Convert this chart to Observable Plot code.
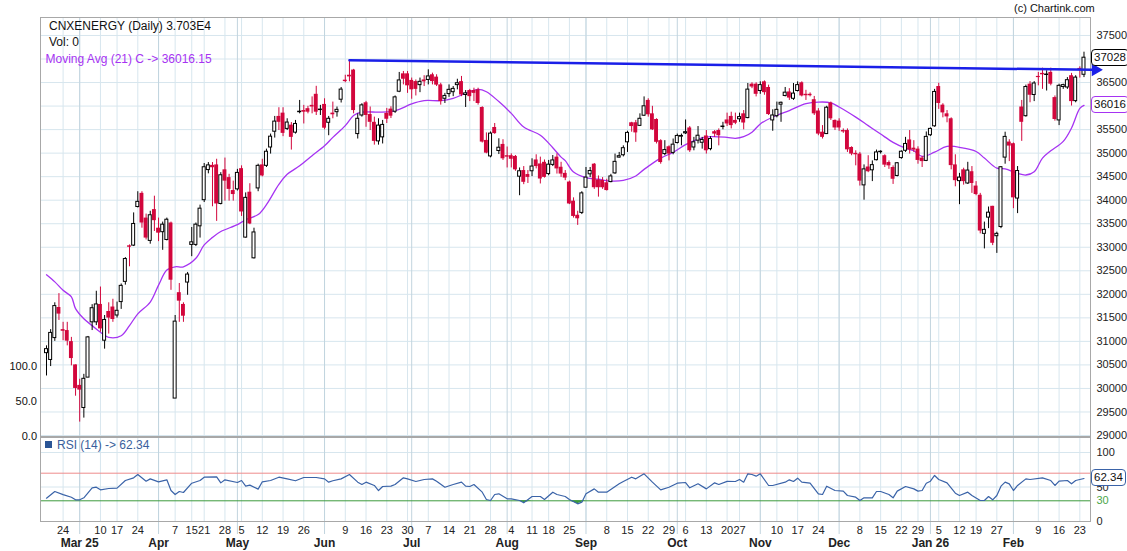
<!DOCTYPE html>
<html>
<head>
<meta charset="utf-8">
<script src="https://cdn.jsdelivr.net/npm/d3@7"></script>
<script src="https://cdn.jsdelivr.net/npm/@observablehq/plot@0.6"></script>
<style>
html,body{margin:0;padding:0;background:#fff;overflow:hidden;}
#wrap{position:relative;width:1127px;height:551px;font-family:"Liberation Sans",Arial,sans-serif;color:#111;}
#wrap svg{display:block;}
.lbl{position:absolute;white-space:nowrap;line-height:14px;font-size:12px;}
.box{position:absolute;left:1091px;height:15px;line-height:15px;padding:0 2px;border:1px solid #000;border-radius:4px;background:#fff;font-size:11.5px;white-space:nowrap;color:#111;}
</style>
</head>
<body>
<div id="wrap"></div>
<script>
// ---------- data ----------
const sessionMonths = ["2025-02","2025-03","2025-04","2025-05","2025-06","2025-07","2025-08","2025-09","2025-10","2025-11","2025-12","2026-01","2026-02"];
const sessionDays = [
 "18 19 20 21 24 25 27 28",
 "3 4 5 6 7 10 11 12 13 17 18 19 20 21 24 25 26 27 28",
 "1 2 3 4 7 8 9 11 15 16 17 21 22 23 24 25 28 29 30",
 "2 5 6 7 8 9 12 13 14 15 16 19 20 21 22 23 26 27 28 29 30",
 "2 3 4 5 6 9 10 11 12 13 16 17 18 19 20 23 24 25 26 27 30",
 "1 2 3 4 7 8 9 10 11 14 15 16 17 18 21 22 23 24 25 28 29 30 31",
 "1 4 5 6 7 8 11 12 13 14 18 19 20 21 22 25 26 28 29",
 "1 2 3 4 5 8 9 10 11 12 15 16 17 18 19 22 23 24 25 26 29 30",
 "1 3 6 7 8 9 10 13 14 15 16 17 20 23 24 27 28 29 30 31",
 "3 4 6 7 10 11 12 13 14 17 18 19 20 21 24 25 26 27 28",
 "1 2 3 4 5 8 9 10 11 12 15 16 17 18 19 22 23 24 26 29 30 31",
 "1 2 5 6 7 8 9 12 13 14 16 19 20 21 22 23 27 28 29 30",
 "1 2 3 4 5 6 9 10 11 12 13 16 17 18 19 20 23 24"
];

const opens = [
30750,30605,31070,31720,31250,31230,30995,30500,30065,29585,
30230,31405,31405,31785,31015,31635,31730,31550,31835,32265,
33030,33035,33855,34145,33620,33135,33800,33405,33320,33155,
33515,29785,32035,31785,32250,33050,33050,33445,34000,34640,
34740,34750,33920,34645,34480,34205,34230,34670,33205,34170,
32765,34250,34750,34730,35120,35455,35780,35850,35515,35595,
35435,35870,35905,35945,36015,36250,35915,36035,35645,35850,
35870,36135,36550,36655,36765,35405,35800,36070,35820,35655,
35250,35335,35845,35935,35880,36305,36685,36685,36545,36520,
36445,36555,36555,36665,36615,36450,36155,36255,36295,36445,
36520,36235,36330,36330,36345,35970,35270,34930,35545,35045,
35185,34945,34945,34930,34500,34630,34545,34615,34855,34770,
34805,34555,34750,34915,34700,34570,34385,33980,33680,33730,
34265,34550,34765,34430,34420,34370,34385,34570,34905,34955,
35230,35645,35645,35580,35795,36120,35835,35715,35265,34980,
35135,35005,35215,35350,35420,35535,35120,35265,35220,35365,
35085,35455,35480,35555,35705,35780,35695,35720,35835,35745,
36465,36465,36320,36515,36395,35695,35785,36030,36215,36300,
36155,36320,36495,36250,36250,36135,35895,35445,35405,36065,
35695,35680,35480,35480,35120,34995,34980,34315,34705,34635,
34850,35020,34945,34800,34695,34515,34895,35050,35280,35105,
35085,34895,34835,35380,35570,36415,36020,35835,35730,34750,
34405,34645,34355,34605,34300,34105,33285,33630,33870,33235,
33430,34905,35235,35200,34035,35980,35785,36465,36235,36630,
36695,36660,36715,36180,35695,36405,36395,36645,36105,36800,36665];

const highs = [
30905,31250,31820,32015,31405,31405,31085,30500,30195,30300,
31105,31780,32065,32155,31550,31820,31895,31835,32220,32780,
33050,33730,34180,34180,33705,33765,34085,33620,33535,33620,
33535,31550,32230,31820,32465,33420,33515,33895,34780,34800,
34800,34870,34585,34895,34550,34405,34655,34730,34155,34350,
33405,34765,34870,35085,35405,35780,35965,35965,35730,35650,
35695,36120,36015,35995,36195,36420,36015,36155,35780,36085,
35980,36395,36655,36975,36780,35835,36050,36100,35980,35765,
35730,35695,35950,35985,36215,36715,36735,36735,36595,36555,
36595,36645,36770,36700,36665,36485,36270,36450,36415,36570,
36630,36330,36355,36380,36380,35985,35430,35450,35630,35305,
35285,35130,34985,34950,34685,34715,34630,34880,34965,34915,
34855,34845,34950,34985,34805,34630,34405,34050,33765,34180,
34695,34695,34780,34515,34480,34445,34550,34980,35015,35155,
35465,35655,35695,35835,36195,36155,35995,35730,35285,35265,
35155,35300,35405,35405,35705,35565,35335,35565,35335,35480,
35350,35480,35515,35655,35850,35870,35850,35850,35905,36480,
36495,36495,36515,36535,36445,35920,36085,36085,36395,36370,
36480,36515,36515,36335,36280,36205,35945,35585,35995,36085,
35705,35730,35515,35515,35135,35050,35015,34750,34945,34835,
35065,35050,34965,34835,34730,34800,35050,35335,35480,35265,
35135,34930,35450,35535,36355,36485,36050,35905,35750,34965,
34570,34680,34805,34715,34395,34145,33535,33855,33870,33320,
34715,35445,35285,35215,34715,36120,36445,36520,36520,36715,
36805,36750,36805,36215,36465,36465,36605,36695,36645,36835,37145];

const lows = [
30265,30465,31000,31445,31015,30905,30480,29835,29285,29370,
30230,31230,31335,31195,30835,31155,31405,31495,31680,32195,
32585,33015,33835,33405,33155,33065,33335,33120,32935,33135,
32085,29785,31405,31405,31980,32800,33015,33195,33950,34560,
33860,33550,33900,33980,33980,33980,34195,33655,33195,33480,
32750,34180,34495,34695,34980,35320,35480,35350,35480,35065,
35405,35835,35620,35835,35835,35800,35800,35495,35370,35730,
35765,36065,36495,36515,35835,35300,35765,35550,35480,35170,
35170,35195,35630,35735,35845,36285,36450,36270,36145,36215,
36285,36415,36450,36450,36415,36020,36055,36185,36200,36345,
36200,35970,36095,36095,36020,35215,34985,34900,35400,34970,
34845,34685,34685,34615,34095,34330,34355,34500,34665,34345,
34470,34520,34715,34555,34485,34415,33905,33620,33465,33695,
34265,34480,34230,34065,34230,34195,34370,34550,34895,34920,
35015,35445,35230,35565,35780,35765,35480,35195,34765,34945,
34835,34965,35195,35155,35395,35015,35050,35195,35085,34980,
35050,35335,35155,35495,35565,35515,35605,35655,35495,35730,
36370,36195,36250,36230,35800,35465,35750,35655,36195,36120,
36120,36300,36195,36120,36195,35800,35370,35300,35395,35695,
35480,35465,35420,35015,34945,34730,34300,34000,34585,34395,
34835,34980,34695,34655,34335,34495,34870,35015,34980,35015,
34765,34695,34820,35355,35550,35930,35750,35645,34645,34285,
33905,34320,34335,34145,34095,33285,32965,33395,33035,32870,
33395,34765,34820,33820,33715,35250,35765,36070,36095,36430,
36355,36320,36430,35680,35585,36355,36355,36000,36070,36595,36605];

const closes = [
30835,31180,31750,31580,31215,31005,30635,30000,29965,30205,
31085,31705,31785,31265,31455,31495,31465,31650,32180,32750,
33000,33495,33965,33515,33195,33680,33565,33300,33480,33585,
32300,31420,31855,31535,32420,33105,33480,33820,34700,34740,
34690,33920,34530,34405,34230,34120,34580,33750,34050,33495,
33315,34730,34515,35030,35350,35670,35655,35420,35650,35335,
35620,35880,35870,35870,35980,35870,35925,35530,35730,35815,
35920,36350,36520,36620,35905,35730,36015,35800,35655,35250,
35585,35600,35720,35785,36185,36545,36570,36430,36345,36355,
36515,36515,36630,36520,36445,36095,36215,36345,36365,36485,
36235,36270,36200,36270,36055,35235,35000,35415,35415,35115,
34880,34915,34870,34645,34615,34380,34485,34715,34715,34450,
34485,34755,34845,34665,34555,34470,33920,33655,33605,34145,
34480,34620,34265,34265,34265,34205,34505,34815,34935,35105,
35430,35565,35430,35730,35995,35815,35495,35230,34800,35065,
34980,35180,35365,35365,35445,35050,35230,35370,35280,35050,
35300,35405,35370,35565,35620,35585,35635,35765,35640,36350,
36405,36250,36445,36285,35820,35800,35920,36070,36285,36170,
36265,36445,36215,36220,36220,35835,35405,35335,35965,35730,
35535,35535,35450,35070,34980,34965,34405,34655,34605,34745,
35015,35030,34745,34730,34445,34785,35030,35195,35065,35065,
34845,34820,35345,35515,36300,36055,35855,35770,34735,34415,
34480,34395,34630,34355,34120,33345,33370,33735,33085,33285,
34700,35345,35150,34050,34620,35655,36405,36230,36480,36605,
36665,36670,36465,35715,36430,36445,36550,36095,36605,36765,37028];

// 21-day moving average, read at candle numbers (1-based)
const maIdx = [1,3,5,7,8,10,12,14,16,19,21,23,26,28,30,32,34,37,39,41,43,47,49,52,54,57,59,62,65,68,70,73,75,77,81,84,86,89,92,96,99,102,105,107,110,113,116,120,123,125,126,128,131,134,137,140,143,145,149,152,155,158,161,165,167,169,171,173,176,180,184,187,190,192,196,199,202,205,208,210,212,215,218,222,225,227,230,232,235,237,239,241,243,246,248,250,251];
const maVal = [32415,32265,32085,31945,31695,31480,31335,31195,31085,31120,31335,31585,31835,32195,32515,32585,32585,32765,33050,33210,33335,33480,33585,33695,33905,34335,34550,34730,34945,35155,35335,35585,35800,35870,35870,35880,35930,36045,36115,36115,36165,36270,36355,36305,36095,35845,35555,35380,35115,34915,34840,34600,34480,34445,34405,34420,34515,34655,34895,35015,35180,35300,35350,35335,35315,35350,35445,35620,35765,35905,36050,36085,36070,35980,35765,35585,35405,35230,35105,35050,34930,35020,35145,35105,35035,34895,34680,34665,34570,34535,34605,34895,35050,35250,35535,35950,36016];

// RSI(14), read at candle numbers (1-based)
const rsiIdx = [1,3,5,7,8,9,10,12,13,14,16,18,20,22,23,25,26,28,30,31,32,33,34,36,38,39,42,43,44,47,48,49,50,52,53,55,57,59,61,63,66,68,69,70,72,74,76,77,78,80,81,82,84,85,87,88,90,92,94,95,97,99,101,102,103,104,106,107,108,109,110,112,113,115,116,118,120,121,123,124,126,127,129,130,131,133,134,136,139,140,142,143,145,147,149,151,153,155,156,158,160,162,163,165,167,168,169,170,171,172,173,175,176,179,180,181,182,183,185,187,188,189,191,193,194,196,197,198,200,201,202,204,205,206,208,210,211,212,213,214,215,216,218,220,221,223,224,226,227,228,229,230,231,232,233,234,235,237,238,241,243,244,245,247,248,249,251];
const rsiVal = [33.8,43.5,39,35.2,31.4,31.4,34.3,48.8,49.7,45.9,47.8,48.3,59.4,63.3,68.1,58.4,61.8,57.5,60.4,44.9,39.1,43.5,42,55.5,59.4,64.2,64.7,56,60.4,56.5,59.4,51.2,52.7,46.9,57.5,59.4,64.2,61.8,59,63.8,63.8,61.8,57,59,61.8,68.1,57,53.6,57,52.2,44.9,50.7,51.2,53.6,63.3,61.8,58,60.9,61.8,58.4,49.7,53.6,57,51.2,50.7,53.6,42.5,31.9,30.4,39.1,40.1,32.9,32.9,30.4,27.1,36.2,36.2,31.9,42.5,39.1,36.2,31.9,25.6,28,40.1,47.3,42.5,42.5,54.6,58,64.2,61.8,69.1,57,45.9,49.7,55.5,56.5,48.8,54.6,47.3,56,53.6,58.2,58,60.9,57,69.1,68.1,65.7,69.1,52.2,52.2,57,60.4,58,62.8,57,55.5,40.1,39.1,51.2,44.9,44,37.7,35.2,30.4,34.3,34.3,43.5,43.5,39.1,34.3,44,50.7,47.3,44,44.9,55.5,58.4,66.7,60.9,56,41,37.7,42.5,37.7,30.4,30.4,36.2,31.4,37.7,51.2,57,54.6,44.9,52.2,61.8,60.9,63.3,59.4,52.2,58.4,59.4,54.6,59.4,62.34];

// Trend line (candle numbers, price)
const trendIdx = [74, 252.8];
const trendVal = [36975, 36770];

const priceTicks = [29000,29500,30000,30500,31000,31500,32000,32500,33000,33500,34000,34500,35000,35500,36000,36500,37000,37500];
const rsiTicks = [0,50,100];
const rsiBands = [30,70];
const volTicks = [0,50,100];
const lastClose = 37028, lastMA = 36016.15, lastRSI = 62.34;

// ---------- build ----------
const dates = sessionMonths.flatMap((m,k)=>sessionDays[k].split(" ").map(d=>`${m}-${d.padStart(2,"0")}`));
if (dates.length !== opens.length || highs.length !== opens.length || lows.length !== opens.length || closes.length !== opens.length)
  throw new Error(`length mismatch ${dates.length} ${opens.length} ${highs.length} ${lows.length} ${closes.length}`);
if (maIdx.length !== maVal.length || rsiIdx.length !== rsiVal.length) throw new Error("ma/rsi mismatch");

const parse = d3.utcParse("%Y-%m-%d");
const dt = dates.map(parse);
const candles = dates.map((d,i)=>({i, o:opens[i], h:highs[i], l:lows[i], c:closes[i]}));
const upC = candles.filter(d=>d.c>=d.o), downC = candles.filter(d=>d.c<d.o);
const ma = maIdx.map((k,j)=>({i:k-1, v:maVal[j]}));
const rsi = rsiIdx.map((k,j)=>({i:k-1, v:rsiVal[j]}));
const trend = trendIdx.map((k,j)=>({i:k-1, v:trendVal[j]}));

const weekStarts = [], monthStarts = [];
for (let i=1;i<dt.length;i++){
  if (dt[i].getUTCMonth() !== dt[i-1].getUTCMonth()) monthStarts.push(i);
  if (d3.utcSunday.count(dt[i-1], dt[i]) > 0) weekStarts.push(i);
}
const dayTicks = weekStarts.filter(i=>!monthStarts.includes(i));
const monthLabel = i => (i===monthStarts[0] || dt[i].getUTCMonth()===0) ? d3.utcFormat("%b %y")(dt[i]) : d3.utcFormat("%b")(dt[i]);

const RED="#d2063c", GRID="#d7e6ee", MGRID="#c2d4de", BLUE="#1a1fe8", PURPLE="#a633f2", RSIC="#3a63a8", GREEN="#3d9a3d";
const xDom = [-1.446, 251.57];
const font = '"Liberation Sans", Arial, sans-serif';

const main = Plot.plot({
  width:1127, height:437, marginLeft:40, marginRight:37, marginTop:17, marginBottom:1,
  x:{domain:xDom, axis:null}, y:{domain:[28979,37882], axis:null},
  style:{fontFamily:font, fontSize:"11px", color:"#222", background:"#fff", overflow:"visible"},
  marks:[
    Plot.ruleY(priceTicks,{stroke:GRID}),
    Plot.ruleX(weekStarts,{stroke:GRID}),
    Plot.ruleX(monthStarts,{stroke:MGRID}),
    Plot.frame({stroke:"#a8a8a8"}),
    Plot.axisY(priceTicks,{anchor:"right", tickSize:0, tickPadding:6, fontSize:11, label:null, tickFormat:d=>String(d)}),
    Plot.line(ma,{x:"i", y:"v", stroke:PURPLE, strokeWidth:1.3, curve:"catmull-rom"}),
    Plot.ruleX(downC,{x:"i", y1:"l", y2:"h", stroke:RED}),
    Plot.ruleX(upC,{x:"i", y1:"l", y2:"h", stroke:"#000"}),
    Plot.rect(downC,{x1:d=>d.i-0.47, x2:d=>d.i+0.47, y1:"o", y2:"c", fill:RED}),
    Plot.rect(upC,{x1:d=>d.i-0.36, x2:d=>d.i+0.36, y1:"o", y2:"c", fill:"#fff", stroke:"#000", strokeWidth:1}),
    Plot.line(trend,{x:"i", y:"v", stroke:BLUE, strokeWidth:2.5}),
    Plot.dot(trend.slice(-1),{x:"i", y:"v", dx:4, symbol:"triangle", rotate:90, r:3.8, fill:BLUE, stroke:BLUE})
  ]
});

const rsiPlot = Plot.plot({
  width:1127, height:114, marginLeft:40, marginRight:37, marginTop:0, marginBottom:30,
  x:{domain:xDom, axis:null}, y:{domain:[0,121.74], axis:null},
  style:{fontFamily:font, fontSize:"11px", color:"#222", background:"#fff", overflow:"visible"},
  marks:[
    Plot.ruleY([50,100],{stroke:GRID}),
    Plot.ruleX(weekStarts,{stroke:GRID}),
    Plot.ruleX(monthStarts,{stroke:MGRID, insetBottom:-13}),
    Plot.ruleY([rsiBands[1]],{stroke:"#ee8c8c"}),
    Plot.ruleY([rsiBands[0]],{stroke:GREEN}),
    Plot.areaY(rsi,{x:"i", y1:rsiBands[0], y2:d=>Math.min(d.v, rsiBands[0]), fill:GREEN}),
    Plot.line(rsi,{x:"i", y:"v", stroke:RSIC, strokeWidth:1.2}),
    Plot.frame({stroke:"#a8a8a8"}),
    Plot.axisY(rsiTicks,{anchor:"right", tickSize:0, tickPadding:6, fontSize:11, label:null}),
    Plot.text([rsiBands[0]],{y:d=>d, text:d=>String(d), frameAnchor:"right", dx:6, textAnchor:"start", fill:"#4aa64a", fontSize:11}),
    Plot.axisX(dayTicks,{anchor:"bottom", tickSize:0, tickPadding:5, fontSize:11, label:null, tickFormat:i=>String(dt[i].getUTCDate())}),
    Plot.axisX(monthStarts,{anchor:"bottom", tickSize:0, tickPadding:17, fontSize:12, fontWeight:"bold", label:null, tickFormat:monthLabel})
  ]
});

const wrap = document.getElementById("wrap");
wrap.appendChild(main);
wrap.appendChild(rsiPlot);

function addLabel(text, left, top, style){
  const el = document.createElement("div");
  el.className = "lbl";
  el.textContent = text;
  el.style.left = left + "px";
  el.style.top = top + "px";
  Object.assign(el.style, style || {});
  wrap.appendChild(el);
  return el;
}
addLabel("CNXENERGY (Daily) 3.703E4", 49, 19);
addLabel("Vol: 0", 49, 35);
addLabel("Moving Avg (21) C -> " + lastMA.toFixed(2), 45.5, 52, {color:PURPLE});
addLabel("(c) Chartink.com", 1014, 1, {fontSize:"11px"});
// RSI legend
const sq = document.createElement("div");
Object.assign(sq.style,{position:"absolute", left:"45px", top:"441px", width:"7px", height:"7px", background:"#2b5596"});
wrap.appendChild(sq);
addLabel("RSI (14) -> " + lastRSI.toFixed(2), 57, 438, {color:"#3a5f9c"});

// volume axis labels (empty volume panel)
const vol = d3.scaleLinear([0,100],[436,366]);
volTicks.forEach(v=>{
  addLabel(v.toFixed(1), 0, vol(v)-7, {fontSize:"11px", textAlign:"right", width:"37px"});
});

// last value boxes
const ys = main.scale("y"), yr = rsiPlot.scale("y");
function addBox(text, cy, color){
  const el = document.createElement("div");
  el.className = "box";
  el.textContent = text;
  el.style.top = (cy - 8.5) + "px";
  el.style.borderColor = color;
  wrap.appendChild(el);
}
addBox(String(lastClose), ys.apply(lastClose), "#000");
addBox(String(Math.round(lastMA)), ys.apply(lastMA), PURPLE);
addBox(lastRSI.toFixed(2), 437 + yr.apply(lastRSI), RSIC);
</script>
</body>
</html>
